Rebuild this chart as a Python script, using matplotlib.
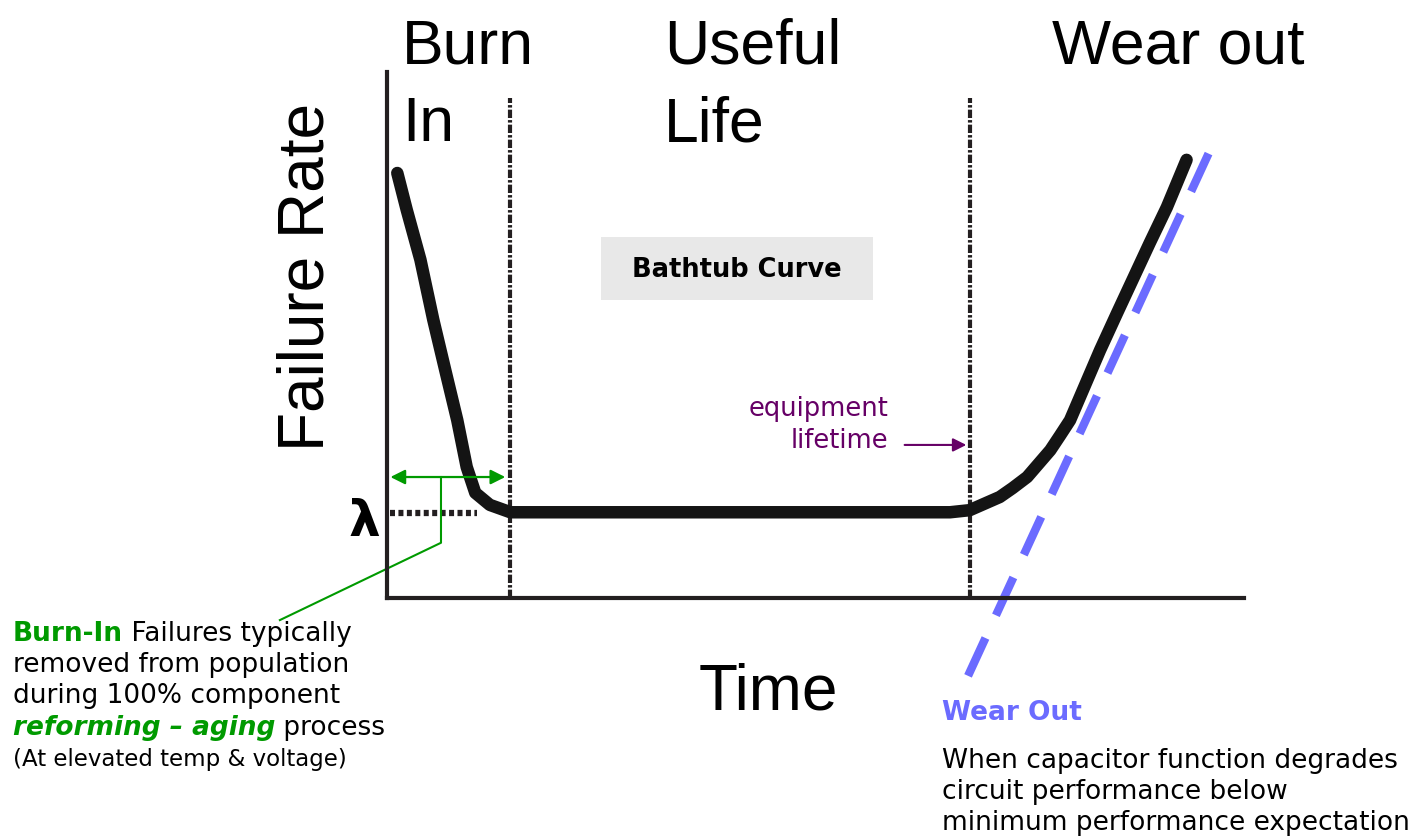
import matplotlib
matplotlib.use("Agg")
import matplotlib.pyplot as plt
from matplotlib.patches import Rectangle

# bathtub curve (time and failure rate, 0-100 scale)
time_pts = [1.2, 2.3, 3.9, 5.4, 6.8, 8.2, 9.3, 10.3, 12.0, 14.4,
            65.7, 68.0, 71.5, 73.0, 74.7, 77.4, 78.5, 79.7, 81.2, 83.2, 85.2, 87.0,
            89.0, 91.0, 93.3]
rate_pts = [80.8, 73.8, 64.3, 52.9, 43.3, 33.8, 24.9, 20.0, 17.7, 16.3,
            16.3, 16.7, 19.2, 20.9, 23.0, 28.1, 30.8, 33.8, 39.5, 47.1, 54.2, 60.5,
            67.5, 74.3, 83.3]

phase_bounds = [14.4, 68.0]       # end of burn-in, equipment lifetime
bound_top = 95.0
lam_rate = 16.2
lam_span = [0.4, 10.5]
burnin_span = [0.4, 13.8]
burnin_y = 23.0
wear_line_t = [67.8, 96.6]
wear_line_r = [-14.8, 87.1]
life_arrow_t = [60.4, 67.6]
life_arrow_r = 29.1

W, H = 1414, 839
fig = plt.figure(figsize=(W / 100, H / 100), dpi=100)
ax = fig.add_axes([387 / W, (H - 598) / H, 857 / W, 526 / H])
ax.set_xlim(0, 100)
ax.set_ylim(0, 100)
ax.set_xticks([])
ax.set_yticks([])
for s in ["top", "right"]:
    ax.spines[s].set_visible(False)
for s in ["left", "bottom"]:
    ax.spines[s].set_linewidth(3)
    ax.spines[s].set_color("#231f20")


def px(x, y):
    return x / W, 1 - y / H


# phase boundaries and lambda level
ax.vlines(phase_bounds, 0, bound_top, colors="#231f20", lw=3,
          linestyles=[(0, (2.0, 0.5, 0.6, 0.5))])
ax.plot(lam_span, [lam_rate, lam_rate], color="#231f20", lw=4.5,
        dashes=(0.8, 0.55), solid_capstyle="butt")

# the curve
ax.plot(time_pts, rate_pts, color="#141414", lw=9,
        solid_capstyle="round", solid_joinstyle="round")

# wear out trend
ax.plot(wear_line_t, wear_line_r, color="#6b6bff", lw=6, dashes=(5, 3),
        clip_on=False)

# burn-in span arrow and leader
green = "#009a00"
ax.annotate("", xy=(burnin_span[0], burnin_y), xytext=(burnin_span[1], burnin_y),
            arrowprops=dict(arrowstyle="<|-|>", color=green, lw=1.6,
                            mutation_scale=22, shrinkA=0, shrinkB=0))
stem_x = 6.3
ax.plot([stem_x, stem_x, -12.5], [burnin_y, 10.5, -4.2], color=green, lw=1.5,
        clip_on=False)

# equipment lifetime arrow
purple = "#660066"
ax.annotate("", xy=(life_arrow_t[1], life_arrow_r), xytext=(life_arrow_t[0], life_arrow_r),
            arrowprops=dict(arrowstyle="-|>", color=purple, lw=1.5,
                            mutation_scale=20, shrinkA=0, shrinkB=0))
fig.text(*px(888, 416), "equipment", ha="right", va="baseline",
         fontsize=18.5, color=purple, family="DejaVu Sans")
fig.text(*px(888, 448), "lifetime", ha="right", va="baseline",
         fontsize=18.5, color=purple, family="DejaVu Sans")

# big phase labels
big = dict(family="Liberation Sans", fontsize=45, color="black", va="baseline")
fig.text(*px(402, 63), "Burn", **big)
fig.text(*px(402, 141), "In", **big)
fig.text(*px(664, 63), "Useful", **big)
fig.text(*px(664, 141), "Life", **big)
fig.text(*px(1052, 63), "Wear out", **big)
fig.text(*px(306, 277), "Failure Rate", family="Liberation Sans", fontsize=46,
         rotation=90, ha="center", va="center")
fig.text(*px(768, 692), "Time", family="Liberation Sans", fontsize=46,
         ha="center", va="center")
fig.text(*px(364, 522), "λ", family="DejaVu Sans", fontsize=36, fontweight="bold",
         ha="center", va="center")

# title box
fig.patches.append(Rectangle(px(601, 300), 272 / W, 63 / H, transform=fig.transFigure,
                             facecolor="#e8e8e8", edgecolor="none"))
fig.text(*px(737, 270), "Bathtub Curve", ha="center", va="center",
         fontsize=18.5, fontweight="bold", family="DejaVu Sans")

# burn-in note
fs = 19
body = dict(family="DejaVu Sans", fontsize=fs, va="baseline")
t = fig.text(*px(13, 641), "Burn-In", color=green, fontweight="bold", **body)
ax.annotate(" Failures typically", xy=(1, 0), xycoords=t, va="bottom",
            family="DejaVu Sans", fontsize=fs)
fig.text(*px(13, 672), "removed from population", **body)
fig.text(*px(13, 703), "during 100% component", **body)
t = fig.text(*px(13, 735), "reforming – aging", color=green, fontweight="bold",
             style="italic", **body)
ax.annotate(" process", xy=(1, 0), xycoords=t, va="bottom",
            family="DejaVu Sans", fontsize=fs)
fig.text(*px(13, 766), "(At elevated temp & voltage)", family="DejaVu Sans",
         fontsize=16.5, va="baseline")

# wear out note
fig.text(*px(942, 720), "Wear Out", color="#6b6bff", fontweight="bold", **body)
fig.text(*px(942, 768), "When capacitor function degrades", **body)
fig.text(*px(942, 799), "circuit performance below", **body)
fig.text(*px(942, 830), "minimum performance expectation", **body)

fig.savefig("out.png", dpi=100)
